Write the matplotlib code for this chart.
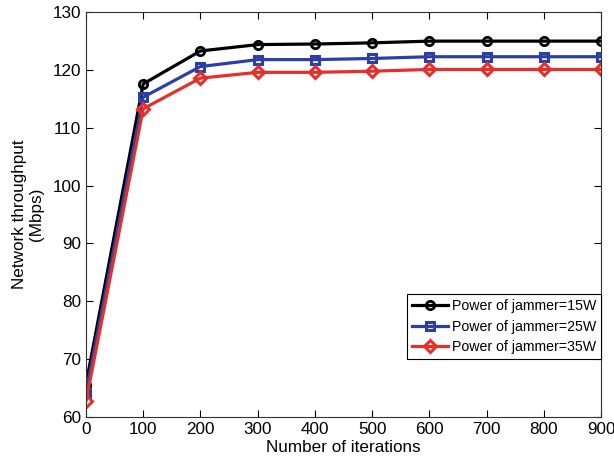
import matplotlib.pyplot as plt

plt.rcParams['font.family'] = ['Liberation Sans', 'DejaVu Sans']

# data
iterations = [0, 100, 200, 300, 400, 500, 600, 700, 800, 900]
p15 = [65.6, 117.6, 123.3, 124.4, 124.5, 124.7, 125.0, 125.0, 125.0, 125.0]
p25 = [64.2, 115.3, 120.6, 121.8, 121.8, 122.0, 122.3, 122.3, 122.3, 122.3]
p35 = [62.7, 113.3, 118.6, 119.6, 119.6, 119.8, 120.1, 120.1, 120.1, 120.1]
labels = ['Power of jammer=15W', 'Power of jammer=25W', 'Power of jammer=35W']

fig = plt.figure(figsize=(6.14, 4.70), dpi=100)
ax = fig.add_axes([0.140, 0.113, 0.839, 0.861])

ax.plot(iterations, p15, color='black', marker='o', markersize=6, markerfacecolor='none',
        markeredgewidth=2, linewidth=2.3, label=labels[0])
ax.plot(iterations, p25, color='#2b3fa6', marker='s', markersize=5.5, markerfacecolor='none',
        markeredgewidth=2.2, linewidth=2.3, label=labels[1])
ax.plot(iterations, p35, color='#e4302a', marker='D', markersize=6, markerfacecolor='none',
        markeredgewidth=2.2, linewidth=2.3, label=labels[2])

ax.set_xlim(0, 900)
ax.set_ylim(60, 130)
ax.set_xticks(range(0, 901, 100))
ax.set_yticks(range(60, 131, 10))
ax.tick_params(direction='in', top=True, right=True, labelsize=12.3, length=5, width=0.8)
for s in ax.spines.values():
    s.set_linewidth(0.8)
    s.set_color('#333333')

ax.set_xlabel('Number of iterations', fontsize=12.3, labelpad=2)
ax.set_ylabel('Network throughput\n(Mbps)', fontsize=12.3, labelpad=6)

leg = ax.legend(loc='lower right', bbox_to_anchor=(1.0, 0.143), fontsize=10.2,
                fancybox=False, edgecolor='black', framealpha=1, handlelength=2.5,
                borderpad=0.35, labelspacing=0.45, handletextpad=0.3, borderaxespad=0)
leg.get_frame().set_linewidth(0.8)

fig.savefig('out.png', dpi=100)
